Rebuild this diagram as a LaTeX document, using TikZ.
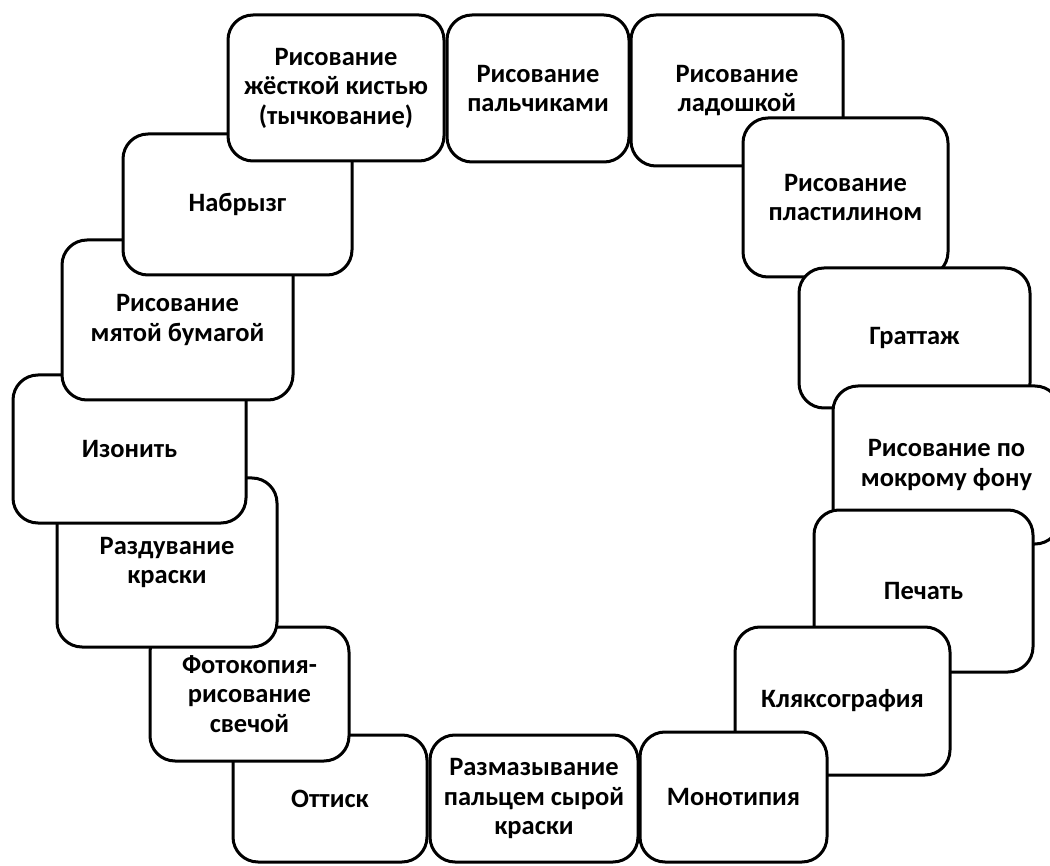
\documentclass[tikz,border=0pt]{standalone}
\usepackage{fontspec}
\setmainfont{Carlito}[BoldFont={Carlito Bold}]
\begin{document}
\begin{tikzpicture}[x=1pt,y=-1pt,
  box/.style={draw=black, line width=3pt, fill=white, rectangle, rounded corners=25pt,
    align=center, inner sep=0pt, font=\bfseries\fontsize{26.5}{29.5}\selectfont}]
\clip (0,0) rectangle (1050,866);
\fill[white] (0,0) rectangle (1050,866);
% bottom of stacking order first
\node[box, minimum width=212pt, minimum height=151pt] (lad) at (737,90.5) {Рисование\\ладошкой};
\node[box, minimum width=205pt, minimum height=159pt] (plast) at (845.5,197.5) {Рисование\\пластилином};
\node[box, minimum width=231pt, minimum height=140pt] (gratt) at (914.5,338) {Граттаж};
\node[box, minimum width=227pt, minimum height=158pt] (mokr) at (946.5,465) {Рисование по\\мокрому фону};
\node[box, minimum width=219pt, minimum height=162pt] (pech) at (923.5,591) {Печать};
\node[box, minimum width=215pt, minimum height=148pt] (klyak) at (842.5,701) {Кляксография};
\node[box, minimum width=187pt, minimum height=130pt] (mono) at (733.5,797) {Монотипия};
\node[box, minimum width=208pt, minimum height=127pt] (razm) at (534,798.5) {Размазывание\\пальцем сырой\\краски};
\node[box, minimum width=194pt, minimum height=127pt] (ottisk) at (330,798.5) {Оттиск};
\node[box, minimum width=199pt, minimum height=134pt] (foto) at (249.5,694) {Фотокопия-\\рисование\\свечой};
\node[box, minimum width=220pt, minimum height=169pt] (razd) at (167,562.5) {Раздувание\\краски};
\node[box, minimum width=233pt, minimum height=148pt] (izon) at (129.5,449) {Изонить};
\node[box, minimum width=231pt, minimum height=160pt] (myat) at (177.5,320) {Рисование\\мятой бумагой};
\node[box, minimum width=229pt, minimum height=141pt] (nabr) at (237.5,204.5) {Набрызг};
\node[box, minimum width=216pt, minimum height=146pt] (tych) at (336,88) {Рисование\\жёсткой кистью\\(тычкование)};
\node[box, minimum width=182pt, minimum height=147pt] (palch) at (538,88.5) {Рисование\\пальчиками};
\end{tikzpicture}
\end{document}
